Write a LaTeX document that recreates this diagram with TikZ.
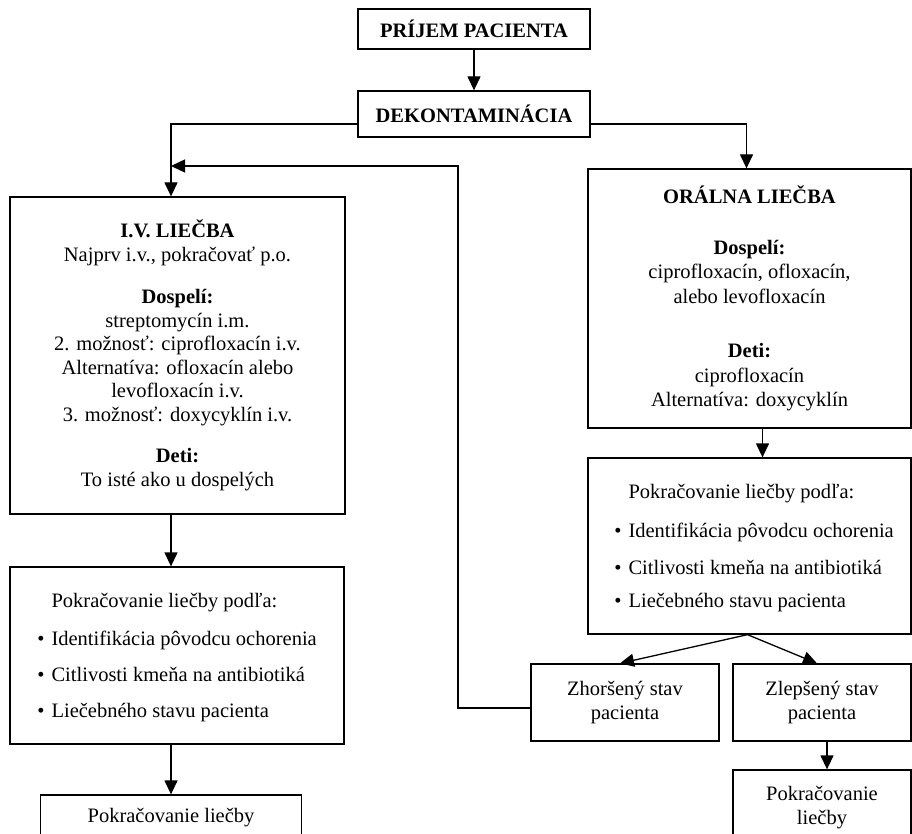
\documentclass[tikz,border=0pt]{standalone}
\usepackage{fontspec}
\setmainfont{Liberation Serif}
\usetikzlibrary{arrows.meta}
\newcommand{\bul}{\llap{\textbullet\hspace{7pt}}}
\begin{document}
\begin{tikzpicture}[x=1pt,y=-1pt,
  box/.style={draw, line width=1.3pt, inner sep=0pt, align=center,
    font=\fontsize{20.5}{24.5}\selectfont},
  txt/.style={inner sep=0pt, align=left, font=\fontsize{20.5}{24.5}\selectfont},
  arr/.style={line width=1.3pt, -{Triangle[length=14pt,width=13pt]}}]
\useasboundingbox (0,0) rectangle (912,834);
\clip (0,0) rectangle (912,834);

% top of the chart
\node[box, minimum width=232, minimum height=40] (prijem) at (474,29) {\textbf{PRÍJEM PACIENTA}};
\node[box, minimum width=232, minimum height=46] (dekon) at (474,114) {\textbf{DEKONTAMINÁCIA}};

% intravenous branch
\node[box, minimum width=335, minimum height=317, font=\fontsize{20.5}{23.5}\selectfont]
  (iv) at (177.5,355.5)
  {\textbf{I.V. LIEČBA}\\Najprv i.v., pokračovať p.o.\\[19pt]
   \textbf{Dospelí:}\\streptomycín i.m.\\2. možnosť: ciprofloxacín i.v.\\
   Alternatíva: ofloxacín alebo\\levofloxacín i.v.\\3. možnosť: doxycyklín i.v.\\[18pt]
   \textbf{Deti:}\\To isté ako u dospelých};
\node[box, minimum width=334, minimum height=177] (pokL) at (177,655.5) {};
\node[txt, anchor=west] (pokLt) at ([xshift=42pt,yshift=-2pt]pokL.west)
  {Pokračovanie liečby podľa:\\[14pt]
   \bul Identifikácia pôvodcu ochorenia\\[11.5pt]
   \bul Citlivosti kmeňa na antibiotiká\\[11pt]
   \bul Liečebného stavu pacienta};
\node[box, minimum width=261, minimum height=46] (pokL2) at (171,818) {Pokračovanie liečby};

% oral branch
\node[box, minimum width=323, minimum height=259] (oral) at (749.5,298.5)
  {\textbf{ORÁLNA LIEČBA}\\[26pt]
   \textbf{Dospelí:}\\ciprofloxacín, ofloxacín,\\alebo levofloxacín\\[30pt]
   \textbf{Deti:}\\ciprofloxacín\\Alternatíva: doxycyklín};
\node[box, minimum width=323, minimum height=176] (pokR) at (749.5,546) {};
\node[txt, anchor=west] (pokRt) at ([xshift=41pt,yshift=-2pt]pokR.west)
  {Pokračovanie liečby podľa:\\[15pt]
   \bul Identifikácia pôvodcu ochorenia\\[12pt]
   \bul Citlivosti kmeňa na antibiotiká\\[9pt]
   \bul Liečebného stavu pacienta};
\node[box, minimum width=188, minimum height=77] (zhor) at (625,702.5) {Zhoršený stav\\pacienta};
\node[box, minimum width=178, minimum height=77] (zlep) at (822,702.5) {Zlepšený stav\\pacienta};
\node[box, minimum width=178, minimum height=75] (pokR2) at (822,807.5) {Pokračovanie\\liečby};

% connectors
\draw[arr] (prijem) -- (dekon);
\draw[arr] ([yshift=-10pt]dekon.west) -| (iv.north -| pokL2.north);
\draw[arr] ([yshift=-10pt]dekon.east) -| ([xshift=-3pt]oral.north);
\draw[arr] (iv.south -| pokL2.north) -- (pokL.north -| pokL2.north);
\draw[arr] (pokL.south -| pokL2.north) -- (pokL2.north);
\draw[arr] ([xshift=13pt]oral.south) -- ([xshift=13pt]pokR.north);
\draw[arr] ([xshift=-2pt]pokR.south) -- ([xshift=-5pt]zhor.north);
\draw[arr] ([xshift=-2pt]pokR.south) -- ([xshift=-5pt]zlep.north);
\draw[arr] ([xshift=5pt]zlep.south) -- ([xshift=5pt]pokR2.north);

% return path from the worsened state back to i.v. treatment
\coordinate (bend) at (458,166);
\coordinate (join) at (171,166);
\draw[arr] ([yshift=-5.5pt]zhor.west) -| (bend) -- (join);
\end{tikzpicture}
\end{document}
